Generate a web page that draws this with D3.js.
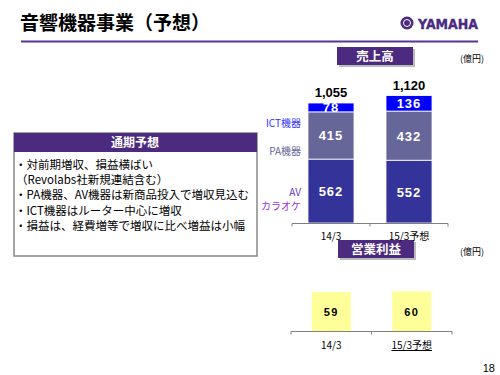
<!DOCTYPE html>
<html>
<head>
<meta charset="utf-8">
<script src="https://cdn.jsdelivr.net/npm/d3@7"></script>
<style>
  body { margin: 0; background: #fff; }
  svg { display: block; font-family: "Noto Sans CJK JP", "Liberation Sans", sans-serif; }
</style>
</head>
<body>
<div id="chart"></div>
<script>
// chart data
const periods = ["14/3", "15/3予想"];
const avKaraoke = [562, 552];
const paEquip = [415, 432];
const ictEquip = [78, 136];
const totals = ["1,055", "1,120"];
const opProfit = [59, 60];
const segmentNames = ["AV", "PA", "ICT"];
const bullets = [
  "・対前期増収、損益横ばい",
  "（Revolabs社新規連結含む）",
  "・PA機器、AV機器は新商品投入で増収見込む",
  "・ICT機器はルーター中心に増収",
  "・損益は、経費増等で増収に比べ増益は小幅"
];

const width = 500, height = 375;
const purple = "#4b2a80";
const svg = d3.select("#chart").append("svg").attr("width", width).attr("height", height);

// Title
svg.append("text")
  .attr("x", 20).attr("y", 30)
  .style("font-size", "19px").style("font-weight", "bold")
  .text("音響機器事業（予想）");
svg.append("line")
  .attr("x1", 21).attr("x2", 478).attr("y1", 41.5).attr("y2", 41.5)
  .attr("stroke", "#5a3590").attr("stroke-width", 2);

// Logo
const logo = svg.append("g");
logo.append("circle").attr("cx", 407).attr("cy", 23).attr("r", 6.5).attr("fill", "#4b2a80");
logo.append("circle").attr("cx", 407).attr("cy", 23).attr("r", 3.5).attr("fill", "none")
  .attr("stroke", "#fff").attr("stroke-width", 1);
logo.append("text")
  .attr("x", 418).attr("y", 28.5)
  .attr("textLength", 60).attr("lengthAdjust", "spacingAndGlyphs")
  .style("font-family", "DejaVu Sans, sans-serif")
  .style("font-size", "14px").style("font-weight", "bold").attr("fill", "#4b2a80")
  .attr("stroke", "#4b2a80").attr("stroke-width", 0.4)
  .text("YAMAHA");

// header boxes
function headerBox(x, y, w, h, label) {
  svg.append("rect").attr("x", x + 2).attr("y", y + 2).attr("width", w).attr("height", h).attr("fill", "#bbb");
  svg.append("rect").attr("x", x).attr("y", y).attr("width", w).attr("height", h).attr("fill", purple);
  svg.append("text")
    .attr("x", x + w / 2).attr("y", y + h / 2 + 4.5)
    .attr("text-anchor", "middle").attr("fill", "#fff")
    .style("font-size", "12.5px").style("font-weight", "bold")
    .text(label);
}
headerBox(337, 47, 76, 18, "売上高");
headerBox(338, 240, 76, 18, "営業利益");
[62, 255].forEach(y => {
  svg.append("text").attr("x", 460).attr("y", y)
    .style("font-size", "9px").text("(億円)");
});

// Forecast text box
svg.append("rect").attr("x", 14).attr("y", 133).attr("width", 243).attr("height", 123)
  .attr("fill", "#fff").attr("stroke", "#888").attr("stroke-width", 1.5);
svg.append("rect").attr("x", 14).attr("y", 133).attr("width", 243).attr("height", 19).attr("fill", purple);
svg.append("text").attr("x", 135).attr("y", 147).attr("text-anchor", "middle")
  .attr("fill", "#fff").style("font-size", "12px").style("font-weight", "bold")
  .text("通期予想");
svg.selectAll(".bullet").data(bullets).enter().append("text")
  .attr("class", "bullet")
  .attr("x", (d, i) => i === 1 ? 16 : 15)
  .attr("y", (d, i) => 169 + i * 15.2)
  .style("font-size", "11.5px")
  .text(d => d);

// Sales stacked chart
const x = d3.scaleBand().domain(periods).range([292, 448]).paddingInner(0.41).paddingOuter(0.205);
const y = d3.scaleLinear().domain([0, 1055]).range([223, 103]);

const table = periods.map((p, i) => ({ period: p, AV: avKaraoke[i], PA: paEquip[i], ICT: ictEquip[i] }));
const stack = d3.stack().keys(segmentNames)(table);
const segColors = { AV: "#333399", PA: "#666699", ICT: "#0000ff" };

const layers = svg.append("g").selectAll("g").data(stack).enter().append("g")
  .attr("fill", d => segColors[d.key]);
layers.selectAll("rect").data(d => d).enter().append("rect")
  .attr("x", d => x(d.data.period))
  .attr("width", x.bandwidth())
  .attr("y", d => y(d[1]))
  .attr("height", d => y(d[0]) - y(d[1]))
  .attr("stroke", "#fff").attr("stroke-width", 0.8);
layers.selectAll("text").data(d => d).enter().append("text")
  .attr("x", d => x(d.data.period) + x.bandwidth() / 2)
  .attr("y", d => (y(d[0]) + y(d[1])) / 2 + 5)
  .attr("text-anchor", "middle").attr("fill", "#fff")
  .style("font-family", "Liberation Sans, sans-serif")
  .style("font-size", "13px").style("font-weight", "bold").style("letter-spacing", "1px")
  .text(d => d[1] - d[0]);

// totals
svg.selectAll(".total").data(periods).enter().append("text")
  .attr("class", "total")
  .attr("x", d => x(d) + x.bandwidth() / 2)
  .attr("y", (d, i) => y(stack[2][i][1]) - 6)
  .attr("text-anchor", "middle")
  .style("font-family", "Liberation Sans, sans-serif")
  .style("font-size", "13px").style("font-weight", "bold")
  .text((d, i) => totals[i]);

function baseAxis(scale, yPos) {
  const r = scale.range();
  const g = svg.append("g").attr("stroke", "#808080").attr("stroke-width", 1);
  g.append("line").attr("x1", r[0]).attr("x2", r[1]).attr("y1", yPos).attr("y2", yPos);
  const ticks = [r[0], (r[0] + r[1]) / 2, r[1]];
  g.selectAll(".tk").data(ticks).enter().append("line")
    .attr("x1", d => d).attr("x2", d => d).attr("y1", yPos).attr("y2", yPos + 3);
}
baseAxis(x, 223.5);

svg.selectAll(".cat1").data(periods).enter().append("text")
  .attr("x", d => x(d) + x.bandwidth() / 2)
  .attr("y", 240)
  .attr("text-anchor", "middle")
  .style("font-size", "10px")
  .text(d => d);

// segment legend labels
const legend = [
  { t: "ICT機器", y: 127, c: "#3333ff" },
  { t: "PA機器", y: 155, c: "#666699" },
  { t: "AV", y: 196, c: "#6633cc" },
  { t: "カラオケ", y: 210, c: "#9933cc" }
];
svg.selectAll(".leg").data(legend).enter().append("text")
  .attr("x", 301).attr("y", d => d.y)
  .attr("text-anchor", "end").attr("fill", d => d.c)
  .style("font-size", "10px")
  .text(d => d.t);

// Operating profit chart
const x2 = d3.scaleBand().domain(periods).range([291, 452]).paddingInner(0.516).paddingOuter(0.258);
const y2 = d3.scaleLinear().domain([0, 59]).range([331, 292]);

svg.selectAll(".op").data(opProfit).enter().append("rect")
  .attr("x", (d, i) => x2(periods[i]))
  .attr("width", x2.bandwidth())
  .attr("y", d => y2(d))
  .attr("height", d => y2(0) - y2(d))
  .attr("fill", "#ffff99");
svg.selectAll(".opl").data(opProfit).enter().append("text")
  .attr("x", (d, i) => x2(periods[i]) + x2.bandwidth() / 2)
  .attr("y", 316)
  .attr("text-anchor", "middle")
  .style("font-family", "Liberation Sans, sans-serif")
  .style("font-size", "11px").style("font-weight", "bold").style("letter-spacing", "1.5px")
  .text(d => d);
baseAxis(x2, 331.5);

svg.selectAll(".cat2").data(periods).enter().append("text")
  .attr("x", d => x2(d) + x2.bandwidth() / 2)
  .attr("y", 349)
  .attr("text-anchor", "middle")
  .style("font-size", "10px")
  .style("text-decoration", (d, i) => i === 1 ? "underline" : null)
  .text(d => d);

// page number
svg.append("text").attr("x", 495).attr("y", 372).attr("text-anchor", "end")
  .style("font-family", "Liberation Sans, sans-serif").style("font-size", "11px")
  .text("18");
</script>
</body>
</html>
